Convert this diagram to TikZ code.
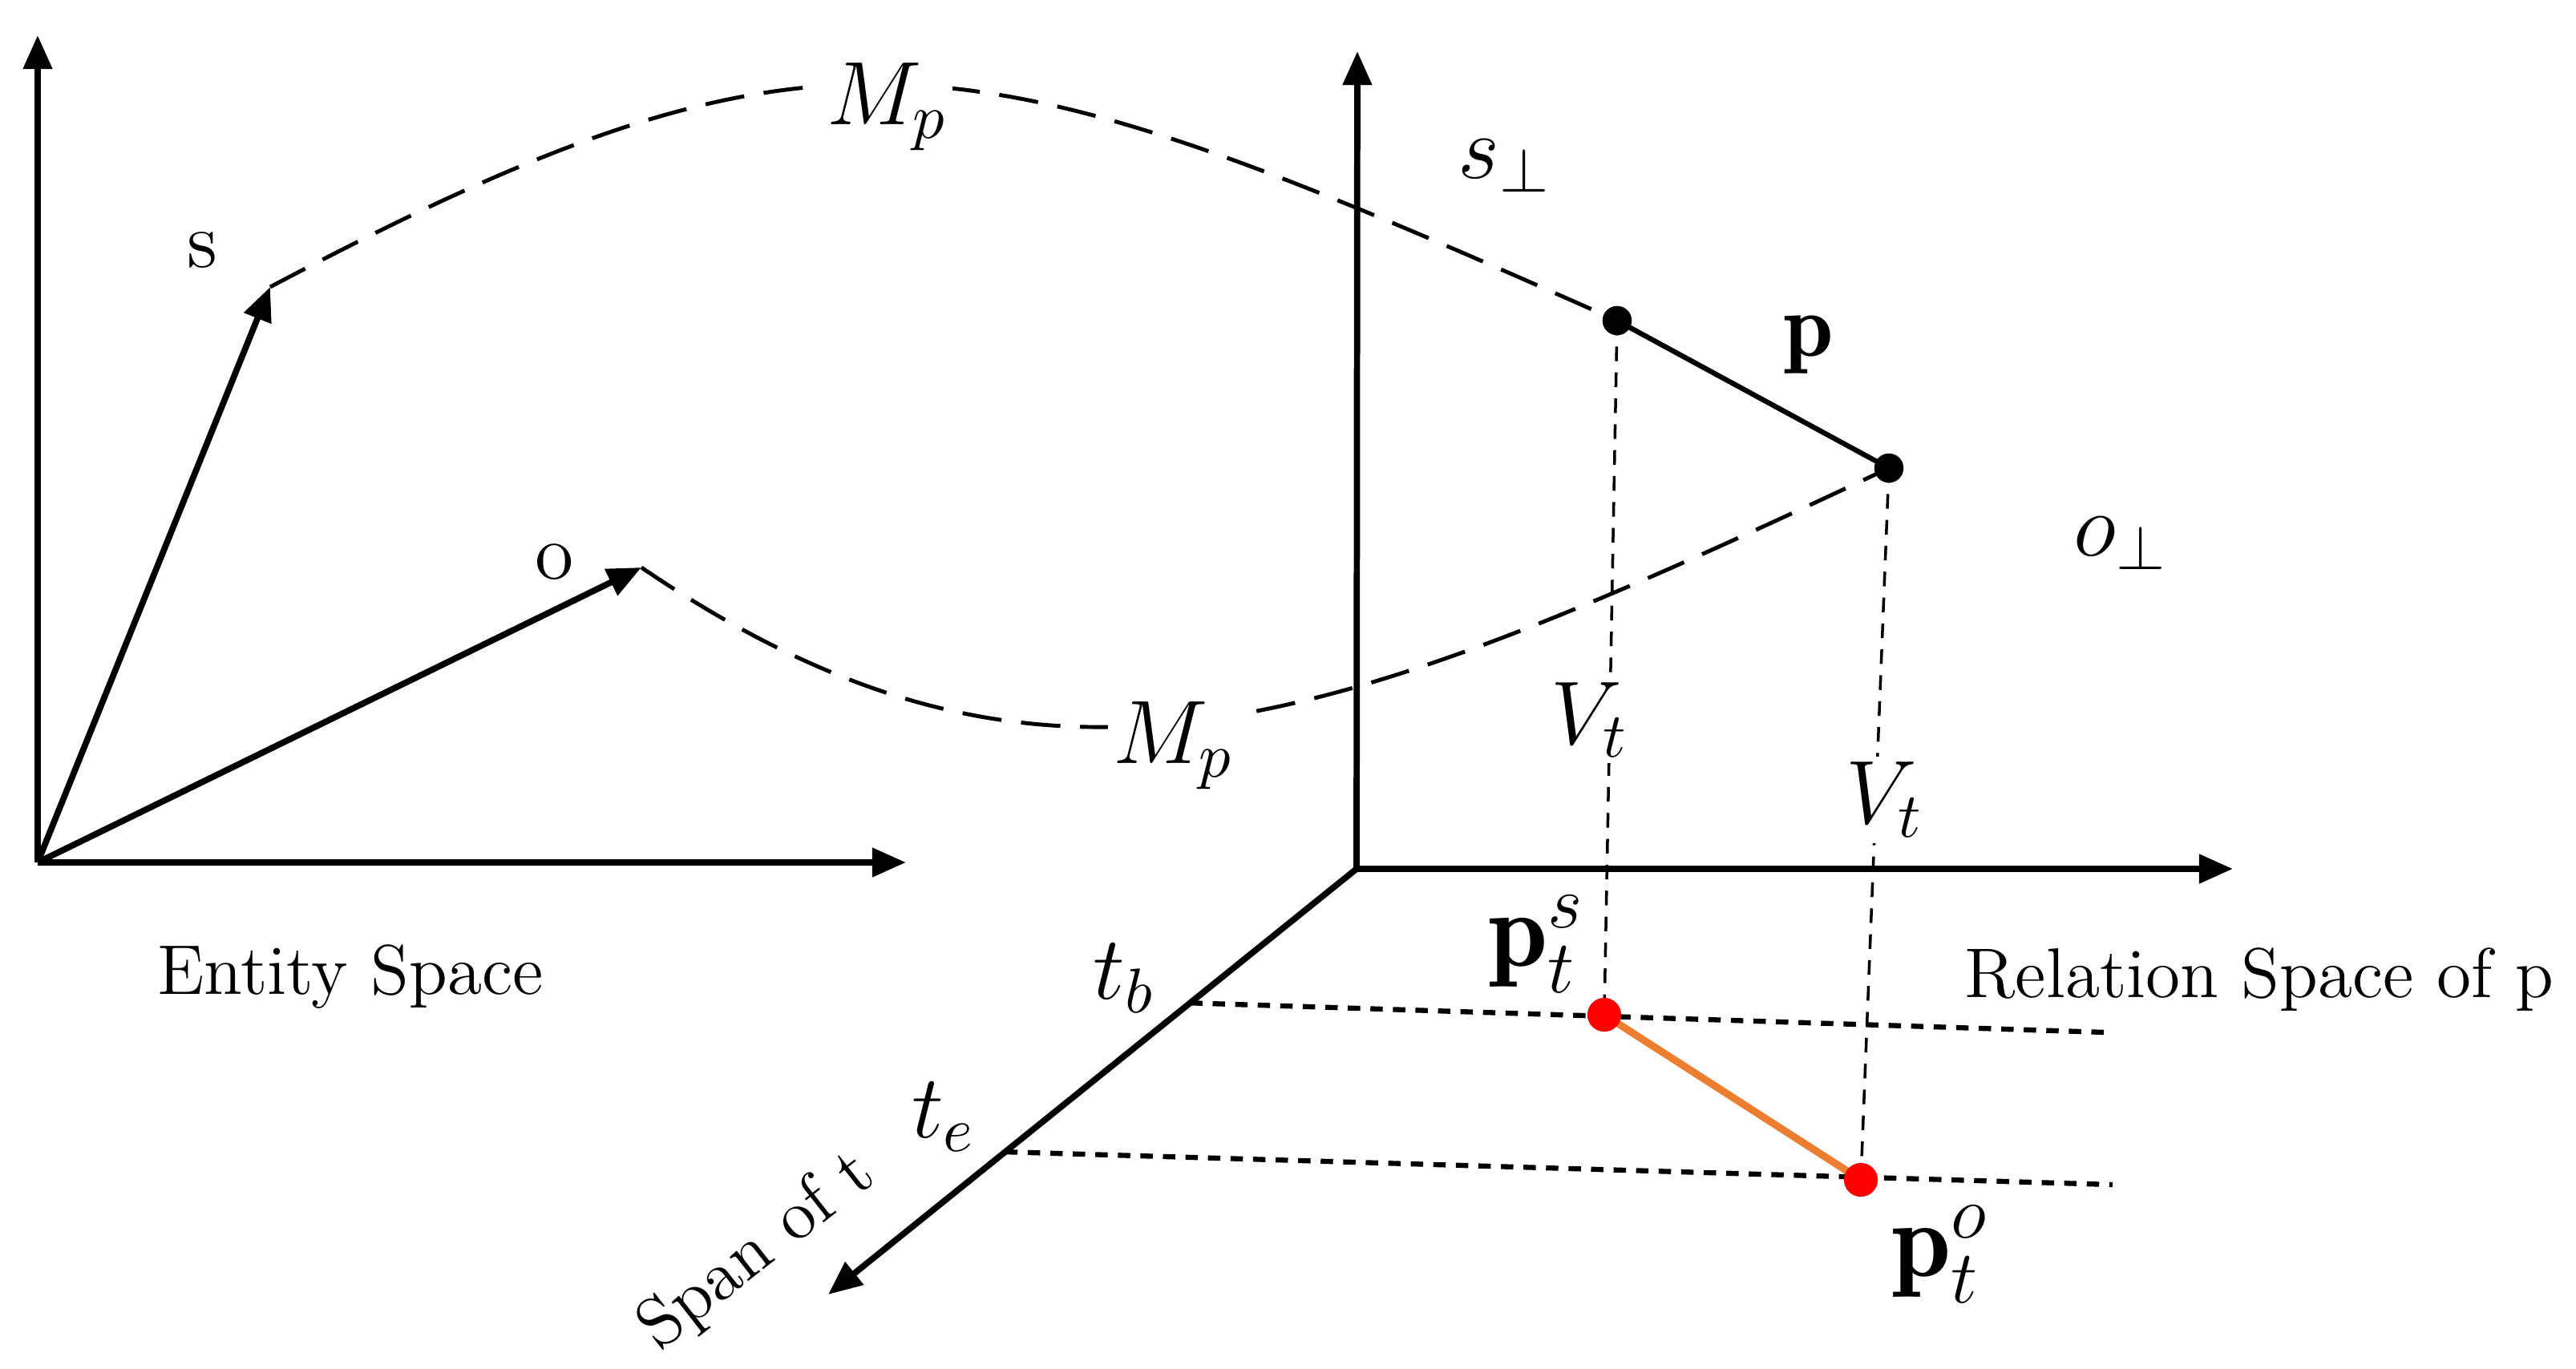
\documentclass[tikz,border=0pt]{standalone}
\usepackage{fix-cm}
\usepackage{fontspec}
\usetikzlibrary{arrows.meta,calc}
\definecolor{spanorange}{RGB}{237,125,49}
\begin{document}
\begin{tikzpicture}[x=0.5cm,y=-0.5cm,
    axis/.style={line width=1.1pt,-{Triangle[length=6pt,width=5pt]}},
    mapcurve/.style={line width=0.7pt,dash pattern=on 7pt off 3.5pt},
    proj/.style={line width=0.5pt,dash pattern=on 2.6pt off 2pt},
    spanline/.style={line width=0.9pt,dash pattern=on 2.2pt off 1.8pt},
    vlabel/.style={font=\fontsize{14}{17}\selectfont,inner sep=0pt},
    mlabel/.style={font=\fontsize{16}{19}\selectfont,inner sep=1pt},
    plabel/.style={font=\fontsize{19}{23}\selectfont,inner sep=1pt},
    tlabel/.style={font=\fontsize{12.5}{15}\selectfont,inner sep=0pt}]

  \useasboundingbox(0,0)rectangle(32.13,17.08);

  % entity space
  \coordinate(O1)at(0.47,10.76);
  \coordinate(Y1)at(0.47,0.44);
  \coordinate(X1)at(11.30,10.76);
  \coordinate(s)at(3.37,3.58);
  \coordinate(o)at(8.00,7.08);

  % relation space of p
  \coordinate(O2)at(16.92,10.84);
  \coordinate(Y2)at(16.93,0.64);
  \coordinate(X2)at(27.85,10.84);
  \coordinate(T2)at(10.33,16.15);
  \coordinate(A)at(20.17,4.00);
  \coordinate(B)at(23.56,5.84);
  \coordinate(ps)at(20.01,12.66);
  \coordinate(po)at(23.21,14.72);
  \coordinate(tb)at($(O2)!0.315!(T2)$);
  \coordinate(te)at($(O2)!0.665!(T2)$);
  \coordinate(tbend)at(26.26,12.88);
  \coordinate(teend)at(26.35,14.78);

  \foreach\E in{Y1,X1,s,o}\draw[axis](O1)--(\E);
  \foreach\E in{Y2,X2,T2}\draw[axis](O2)--(\E);

  % mappings M_p
  \draw[mapcurve](s)..controls(10.33,-0.10)and(12.07,0.40)..(A)
    node[pos=0.48,yshift=-4pt,mlabel,fill=white](mps){$M_p$};
  \draw[mapcurve](o)..controls(12.99,10.47)and(16.46,9.18)..(B)
    node[pos=0.475,yshift=-4pt,mlabel,fill=white](mpo){$M_p$};

  % projections V_t
  \draw[proj](A)--(ps);
  \draw[proj](B)--(po);
  \node[mlabel,fill=white](vs)at(19.83,8.98){$V_t$};
  \node[mlabel,fill=white](vo)at(23.51,9.98){$V_t$};

  \draw[spanline](tb)--(tbend);
  \draw[spanline](te)--(teend);
  \draw[line width=1.3pt,spanorange](ps)--(po);
  \draw[line width=0.9pt](A)--(B);
  \foreach\P in{A,B}\fill[black](\P)circle(2.6pt);
  \foreach\P in{ps,po}\fill[red](\P)circle(3pt);

  \node[vlabel](slbl)at(2.52,3.12){s};
  \node[vlabel](olbl)at(6.92,7.01){o};
  \node[mlabel](sperp)at(18.77,2.07){$s_\perp$};
  \node[mlabel](operp)at(26.45,6.78){$o_\perp$};
  \node[mlabel](plbl)at(22.56,4.30){$\mathbf{p}$};
  \node[mlabel](tblbl)at(14.02,12.20){$t_b$};
  \node[mlabel](telbl)at(11.77,13.93){$t_e$};
  \node[plabel](pslbl)at(19.17,11.78){$\mathbf{p}_t^s$};
  \node[plabel](polbl)at(24.20,15.65){$\mathbf{p}_t^o$};

  \node[tlabel,anchor=base](ent)at(4.37,12.40){Entity Space};
  \node[tlabel,anchor=base](rel)at(28.18,12.44){Relation Space of p};
  \node[tlabel,rotate=38](spn)at(9.45,15.62){Span of t};
\end{tikzpicture}
\end{document}
